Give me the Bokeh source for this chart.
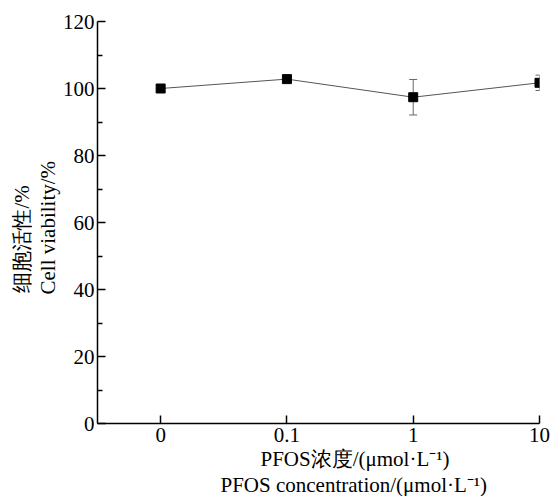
from bokeh.plotting import figure
from bokeh.models import Range1d, FixedTicker, Whisker, ColumnDataSource, Title, TeeHead
from bokeh.embed import file_html
from bokeh.resources import INLINE

# Data
categories = ["0", "0.1", "1", "10"]
viability = [100.0, 102.8, 97.4, 101.7]
errors = [0.0, 0.0, 5.3, 2.3]
y_ticks = [0, 20, 40, 60, 80, 100, 120]
y_minor = [10, 30, 50, 70, 90, 110]
x_title = ["PFOS浓度/(μmol·L⁻¹)", "PFOS concentration/(μmol·L⁻¹)"]
y_title = ["细胞活性/%", "Cell viability/%"]

xpos = list(range(len(categories)))
src = ColumnDataSource(dict(
    x=xpos, y=viability,
    lo=[v - e for v, e in zip(viability, errors)],
    hi=[v + e for v, e in zip(viability, errors)],
))

FONT = "Liberation Serif"
FS = "21px"

p = figure(width=551, height=496, output_backend="svg", toolbar_location=None,
           x_range=Range1d(-0.5, len(categories) - 1), y_range=Range1d(0, 120))
p.min_border_left = 97
p.min_border_top = 21
p.min_border_right = 12
p.min_border_bottom = 68
p.outline_line_color = None
p.xgrid.visible = False
p.ygrid.visible = False
p.background_fill_color = "white"

# x axis
xa = p.xaxis[0]
xa.ticker = FixedTicker(ticks=xpos)
xa.major_label_overrides = {i: c for i, c in enumerate(categories)}
xa.major_tick_in = 8
xa.major_tick_out = 0
xa.minor_tick_line_color = None
xa.axis_line_width = 1.5
xa.major_tick_line_width = 1.5
xa.axis_line_color = "black"
xa.major_label_text_font = FONT
xa.major_label_text_font_size = FS
xa.major_label_text_color = "black"
xa.major_label_standoff = 4

# y axis
ya = p.yaxis[0]
ya.ticker = FixedTicker(ticks=y_ticks, minor_ticks=y_minor)
ya.major_tick_in = 8
ya.major_tick_out = 0
ya.minor_tick_in = 5
ya.minor_tick_out = 0
ya.axis_line_width = 1.5
ya.major_tick_line_width = 1.5
ya.minor_tick_line_width = 1.5
ya.major_label_text_font = FONT
ya.major_label_text_font_size = FS
ya.major_label_text_color = "black"
ya.major_label_standoff = 3

# series
p.line("x", "y", source=src, line_color="#555555", line_width=1)
w = Whisker(source=src, base="x", upper="hi", lower="lo",
            line_color="#666666", line_width=1,
            upper_head=TeeHead(size=8, line_color="#666666", line_width=1),
            lower_head=TeeHead(size=8, line_color="#666666", line_width=1))
p.add_layout(w)
p.scatter("x", "y", source=src, marker="square", size=9, color="black")

# axis titles as stacked titles
for txt, off in zip(x_title, [163, 123]):
    p.add_layout(Title(text=txt, align="left", offset=off, text_font=FONT,
                       text_font_size=FS, text_font_style="normal",
                       text_color="black", standoff=0), "below")
for txt, off in zip(reversed(y_title), [129, 131]):
    p.add_layout(Title(text=txt, align="left", offset=off, text_font=FONT,
                       text_font_size=FS, text_font_style="normal",
                       text_color="black", standoff=0), "left")

open("out.html", "w").write(file_html(p, INLINE))
